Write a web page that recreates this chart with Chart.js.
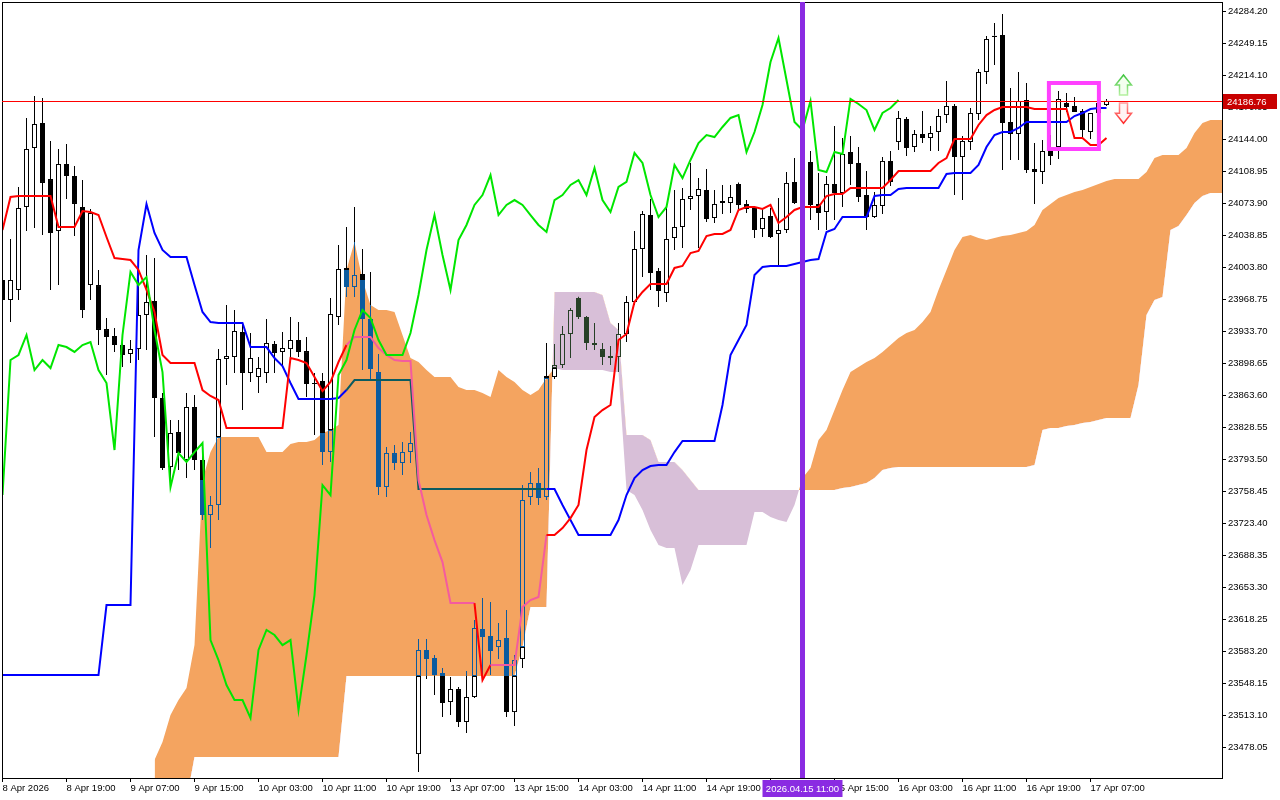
<!DOCTYPE html>
<html>
<head>
<meta charset="utf-8">
<script src="https://cdn.jsdelivr.net/npm/chart.js@4.4.1/dist/chart.umd.min.js"></script>
<style>
  html, body { margin: 0; background: #fff; }
  canvas { display: block; }
</style>
</head>
<body>
<canvas id="ichimoku" width="1280" height="800"></canvas>
<script>
"use strict";

// hourly bars, one label every 8 bars
var xLabels = ["8 Apr 2026", "8 Apr 19:00", "9 Apr 07:00", "9 Apr 15:00", "10 Apr 03:00", "10 Apr 11:00",
  "10 Apr 19:00", "13 Apr 07:00", "13 Apr 15:00", "14 Apr 03:00", "14 Apr 11:00", "14 Apr 19:00",
  "15 Apr 07:00", "15 Apr 15:00", "16 Apr 03:00", "16 Apr 11:00", "16 Apr 19:00", "17 Apr 07:00"];
var LABEL_STEP = 8;

var yTicks = [24284.20, 24249.15, 24214.10, 24179.05, 24144.00, 24108.95, 24073.90, 24038.85,
  24003.80, 23968.75, 23933.70, 23898.65, 23863.60, 23828.55, 23793.50, 23758.45, 23723.40,
  23688.35, 23653.30, 23618.25, 23583.20, 23548.15, 23513.10, 23478.05];

var open = [
  23990.3, 23968.4, 23979.4, 24070.3, 24134.9, 24162.3, 24100.9, 24044.0, 24117.4, 24104.2,
  24070.3, 23984.8, 23984.8, 23936.6, 23929.0, 23919.1, 23909.3, 23914.7, 23952.0, 23967.3,
  23861.1, 23785.5, 23823.8, 23793.2, 23851.2, 23793.2, 23732.9, 23743.9, 23903.8, 23906.0,
  23933.4, 23888.5, 23884.1, 23888.5, 23920.2, 23911.5, 23914.7, 23924.6, 23912.5, 23876.4,
  23879.7, 23801.9, 23949.8, 24003.5, 23982.6, 23996.9, 23947.6, 23889.5, 23763.6, 23800.8,
  23789.9, 23801.9, 23471.1, 23585.1, 23576.3, 23559.9, 23528.1, 23542.3, 23506.2, 23533.6,
  23608.1, 23600.4, 23588.3, 23598.2, 23517.1, 23575.2, 23752.6, 23768.0, 23752.6, 23884.1,
  23897.2, 23931.2, 23970.6, 23949.8, 23921.3, 23914.7, 23907.1, 23906.0, 23931.2, 23966.2,
  24024.3, 24061.5, 24000.2, 23976.1, 24036.3, 24048.4, 24079.0, 24082.3, 24088.9, 24058.2,
  24076.8, 24074.7, 24095.5, 24073.6, 24069.2, 24046.2, 24060.4, 24040.7, 24045.1, 24097.7,
  24074.7, 24119.6, 24073.6, 24064.8, 24095.5, 24085.6, 24130.5, 24118.5, 24083.4, 24059.3,
  24071.4, 24120.7, 24141.5, 24166.7, 24136.0, 24150.2, 24145.8, 24152.4, 24171.0, 24180.9,
  24125.0, 24141.5, 24172.1, 24218.1, 24257.6, 24258.7, 24163.4, 24150.2, 24187.5, 24111.9,
  24108.6, 24131.6, 24136.0, 24184.2, 24180.9, 24175.4, 24152.4, 24173.2, 24182.0];
var high = [
  24010.0, 24035.2, 24092.2, 24167.8, 24191.9, 24189.7, 24142.6, 24133.8, 24139.3, 24115.2,
  24099.8, 24068.1, 24001.3, 23948.7, 23937.7, 23930.1, 23924.6, 24006.7, 24017.7, 24014.4,
  23866.5, 23837.0, 23837.0, 23866.5, 23864.4, 23798.6, 23753.7, 23914.7, 23962.9, 23957.5,
  23943.2, 23932.3, 23906.0, 23947.6, 23923.5, 23933.4, 23949.8, 23944.3, 23927.9, 23888.5,
  23888.5, 23970.6, 24028.7, 24048.4, 24070.3, 24024.3, 23999.1, 23909.3, 23807.4, 23809.6,
  23812.9, 23823.8, 23597.1, 23597.1, 23579.6, 23565.3, 23555.5, 23544.5, 23562.1, 23617.9,
  23642.0, 23637.6, 23614.6, 23628.9, 23579.6, 23765.8, 23780.0, 23784.4, 23921.3, 23920.2,
  23939.9, 23959.6, 23972.0, 23950.9, 23943.2, 23921.3, 23918.0, 23943.2, 23972.8, 24044.0,
  24065.9, 24079.0, 24003.5, 24070.3, 24088.9, 24091.1, 24118.5, 24102.0, 24111.9, 24088.9,
  24094.4, 24094.4, 24097.0, 24077.9, 24071.4, 24069.2, 24069.2, 24080.1, 24108.6, 24123.9,
  24132.7, 24131.6, 24107.5, 24104.2, 24159.0, 24145.8, 24148.0, 24136.0, 24109.7, 24086.7,
  24125.0, 24131.6, 24175.4, 24168.8, 24154.6, 24175.4, 24159.0, 24177.6, 24208.3, 24183.1,
  24148.0, 24178.7, 24221.4, 24257.6, 24271.8, 24281.7, 24200.6, 24218.1, 24206.1, 24140.4,
  24143.7, 24149.1, 24197.3, 24195.1, 24190.8, 24177.6, 24173.2, 24187.5, 24188.6];
var low = [
  23948.7, 23944.3, 23968.4, 24044.0, 24047.3, 24039.6, 23979.4, 23984.8, 24079.0, 24038.5,
  23948.7, 23968.4, 23919.1, 23886.3, 23911.5, 23895.0, 23899.4, 23902.7, 23913.6, 23818.4,
  23782.2, 23763.6, 23782.2, 23773.4, 23782.2, 23727.4, 23696.8, 23727.4, 23875.3, 23888.5,
  23847.9, 23878.6, 23866.5, 23877.5, 23888.5, 23895.0, 23904.9, 23906.0, 23862.2, 23820.5,
  23787.7, 23791.0, 23941.0, 23971.7, 23971.7, 23891.7, 23880.8, 23754.8, 23752.6, 23782.2,
  23776.7, 23789.9, 23451.4, 23553.3, 23535.8, 23511.7, 23513.9, 23500.7, 23494.1, 23532.5,
  23557.7, 23557.7, 23575.2, 23511.7, 23501.8, 23565.3, 23743.9, 23743.9, 23749.3, 23881.9,
  23893.9, 23904.9, 23947.6, 23913.6, 23913.6, 23897.2, 23897.2, 23889.5, 23922.4, 23962.9,
  23993.6, 23979.4, 23960.7, 23966.2, 24023.2, 24025.4, 24067.0, 24025.4, 24053.8, 24052.7,
  24062.6, 24063.7, 24068.1, 24063.7, 24036.3, 24037.4, 24036.3, 24006.7, 24041.8, 24073.6,
  24067.0, 24056.0, 24045.1, 24045.1, 24056.0, 24070.3, 24094.4, 24075.7, 24045.1, 24058.2,
  24062.6, 24093.3, 24132.7, 24126.1, 24130.5, 24140.4, 24131.6, 24131.6, 24162.3, 24083.4,
  24077.9, 24132.7, 24165.6, 24205.0, 24225.8, 24110.8, 24121.8, 24121.8, 24107.5, 24073.6,
  24095.5, 24116.3, 24122.8, 24174.3, 24174.3, 24145.8, 24144.8, 24171.0, 24180.9];
var close = [
  23968.4, 23990.3, 24069.2, 24133.8, 24161.2, 24096.6, 24041.8, 24117.4, 24104.2, 24073.6,
  23957.5, 24063.7, 23935.6, 23927.9, 23919.1, 23908.2, 23914.7, 23952.0, 23966.2, 23861.1,
  23784.4, 23822.7, 23800.8, 23851.2, 23793.2, 23732.9, 23743.9, 23903.8, 23907.1, 23934.5,
  23888.5, 23904.9, 23893.9, 23921.3, 23910.4, 23915.8, 23924.6, 23911.5, 23876.4, 23877.5,
  23801.9, 23953.1, 24002.4, 23982.6, 23995.8, 23947.6, 23892.8, 23763.6, 23800.8, 23789.9,
  23801.9, 23811.8, 23585.1, 23575.2, 23557.7, 23527.0, 23542.3, 23506.2, 23533.6, 23609.2,
  23599.3, 23584.0, 23596.0, 23517.1, 23574.1, 23749.3, 23768.0, 23751.5, 23885.2, 23897.2,
  23931.2, 23957.5, 23949.8, 23921.3, 23919.1, 23906.0, 23904.9, 23931.2, 23966.2, 24024.3,
  24062.6, 23998.0, 23978.3, 24035.2, 24048.4, 24079.0, 24082.3, 24090.0, 24057.1, 24073.6,
  24074.7, 24081.2, 24072.5, 24068.1, 24045.1, 24058.2, 24037.4, 24045.1, 24096.6, 24074.7,
  24119.6, 24072.5, 24063.7, 24095.5, 24085.6, 24128.3, 24117.4, 24081.2, 24059.3, 24072.5,
  24120.7, 24097.7, 24167.8, 24134.9, 24150.2, 24145.8, 24151.3, 24169.9, 24180.9, 24125.0,
  24142.6, 24173.2, 24218.1, 24254.3, 24256.5, 24162.3, 24150.2, 24186.4, 24110.8, 24108.6,
  24131.6, 24126.1, 24188.6, 24179.8, 24174.3, 24154.6, 24173.2, 24184.2, 24186.76];

var tenkan = [
  24045.1, 24081.2, 24082.3, 24082.3, 24082.3, 24082.3, 24082.3, 24048.4, 24048.4, 24048.4,
  24065.9, 24064.8, 24061.5, 24037.4, 24014.4, 24013.3, 24012.2, 24001.3, 23979.4, 23955.3,
  23908.2, 23899.4, 23899.4, 23899.4, 23899.4, 23869.8, 23863.3, 23858.9, 23828.2, 23828.2,
  23828.2, 23828.2, 23828.2, 23828.2, 23828.2, 23828.2, 23904.9, 23902.7, 23899.4, 23884.1,
  23868.7, 23878.6, 23900.5, 23919.1, 23927.9, 23927.9, 23927.9, 23915.8, 23908.2, 23902.7,
  23901.6, 23901.6, 23771.3, 23732.9, 23705.5, 23681.4, 23636.5, 23636.5, 23636.5, 23636.5,
  23552.2, 23568.6, 23568.6, 23568.6, 23568.6, 23632.2, 23639.8, 23643.1, 23711.0, 23711.0,
  23718.7, 23729.6, 23743.9, 23804.1, 23840.3, 23847.9, 23853.4, 23924.6, 23931.2, 23966.2,
  23977.2, 23985.9, 23985.9, 23985.9, 24003.5, 24005.7, 24019.9, 24022.1, 24038.5, 24040.7,
  24040.7, 24045.1, 24067.0, 24070.3, 24070.3, 24068.1, 24072.5, 24052.7, 24059.3, 24067.0,
  24070.3, 24070.3, 24070.3, 24082.3, 24084.5, 24084.5, 24091.1, 24091.1, 24091.1, 24091.1,
  24091.1, 24099.8, 24109.7, 24109.7, 24109.7, 24109.7, 24109.7, 24118.5, 24123.9, 24144.8,
  24144.8, 24144.8, 24160.1, 24171.0, 24176.5, 24179.8, 24179.8, 24179.8, 24179.8, 24177.6,
  24177.6, 24177.6, 24177.6, 24177.6, 24145.8, 24145.8, 24138.2, 24138.2, 24145.8];
var kijun = [
  23557.7, 23557.7, 23557.7, 23557.7, 23557.7, 23557.7, 23557.7, 23557.7, 23557.7, 23557.7,
  23557.7, 23557.7, 23557.7, 23634.3, 23634.3, 23634.3, 23634.3, 24023.2, 24073.6, 24041.8,
  24023.2, 24015.5, 24015.5, 24015.5, 23984.8, 23955.3, 23944.3, 23943.2, 23943.2, 23943.2,
  23943.2, 23916.9, 23916.9, 23916.9, 23904.9, 23896.1, 23877.5, 23860.0, 23860.0, 23860.0,
  23860.0, 23860.0, 23861.1, 23869.8, 23880.8, 23880.8, 23880.8, 23880.8, 23880.8, 23880.8,
  23880.8, 23880.8, 23761.4, 23761.4, 23761.4, 23761.4, 23761.4, 23761.4, 23761.4, 23761.4,
  23761.4, 23761.4, 23761.4, 23761.4, 23761.4, 23761.4, 23761.4, 23761.4, 23761.4, 23761.4,
  23743.9, 23727.4, 23711.0, 23711.0, 23711.0, 23711.0, 23711.0, 23727.4, 23754.8, 23773.4,
  23782.2, 23786.6, 23787.7, 23787.7, 23801.9, 23814.0, 23814.0, 23814.0, 23814.0, 23814.0,
  23853.4, 23908.2, 23924.6, 23941.0, 23995.8, 24004.6, 24005.7, 24005.7, 24005.7, 24007.8,
  24010.0, 24012.2, 24013.3, 24042.9, 24046.2, 24059.3, 24059.3, 24059.3, 24059.3, 24082.3,
  24083.4, 24083.4, 24090.0, 24091.1, 24091.1, 24091.1, 24091.1, 24091.1, 24106.4, 24107.5,
  24107.5, 24107.5, 24116.3, 24136.0, 24149.1, 24152.4, 24152.4, 24156.8, 24163.4, 24163.4,
  24163.4, 24163.4, 24163.4, 24163.4, 24169.9, 24173.2, 24177.6, 24178.7, 24178.7];
// lagging span, plotted 26 bars back
var chikou = [
  23754.8, 23902.7, 23908.2, 23930.1, 23891.7, 23902.7, 23893.9, 23919.1, 23916.9, 23911.5,
  23919.1, 23922.4, 23891.7, 23877.5, 23804.1, 23930.1, 23999.1, 23984.8, 23993.6, 23935.6,
  23889.5, 23763.6, 23800.8, 23791.0, 23801.9, 23811.8, 23596.0, 23574.1, 23546.7, 23530.3,
  23530.3, 23510.6, 23585.1, 23607.0, 23601.5, 23590.5, 23596.0, 23519.3, 23579.6, 23645.3,
  23765.8, 23754.8, 23886.3, 23902.7, 23935.6, 23957.5, 23948.7, 23924.6, 23908.2, 23908.2,
  23908.2, 23932.3, 23973.9, 24023.2, 24061.5, 24017.7, 23979.4, 24034.1, 24050.6, 24072.5,
  24083.4, 24105.3, 24061.5, 24072.5, 24077.9, 24072.5, 24061.5, 24050.6, 24042.9, 24077.9,
  24083.4, 24094.4, 24099.8, 24083.4, 24113.0, 24077.9, 24064.8, 24092.2, 24097.7, 24129.4,
  24118.5, 24083.4, 24059.3, 24070.3, 24116.3, 24102.0, 24121.8, 24140.4, 24149.1, 24146.9,
  24157.9, 24167.8, 24171.0, 24130.5, 24152.4, 24182.0, 24229.1, 24255.4, 24209.4, 24163.4,
  24154.6, 24186.4, 24110.8, 24108.6, 24130.5, 24128.3, 24188.6, 24183.1, 24176.5, 24154.6,
  24173.2, 24178.7, 24187.5];

// cloud, first value sits on bar CLOUD_FROM
var CLOUD_FROM = 19;
var spanA = [
  23464.6, 23484.3, 23513.9, 23530.3, 23543.4, 23590.5, 23771.3, 23801.9, 23818.4, 23818.4,
  23818.4, 23818.4, 23818.4, 23818.4, 23801.9, 23801.9, 23801.9, 23810.7, 23812.9, 23812.9,
  23815.1, 23822.7, 23826.0, 23831.5, 24001.3, 24031.9, 23990.3, 23962.9, 23957.5, 23957.5,
  23955.3, 23930.1, 23904.9, 23900.5, 23891.7, 23884.1, 23884.1, 23884.1, 23873.1, 23869.8,
  23869.8, 23866.5, 23862.2, 23891.7, 23884.1, 23878.6, 23869.8, 23864.4, 23869.8, 23883.0,
  23893.9, 23891.7, 23891.7, 23891.7, 23891.7, 23891.7, 23891.7, 23889.5, 23889.5, 23760.3,
  23754.8, 23738.4, 23716.5, 23700.1, 23696.8, 23696.8, 23656.2, 23672.7, 23700.1, 23700.1,
  23700.1, 23700.1, 23700.1, 23700.1, 23700.1, 23736.2, 23736.2, 23730.7, 23727.4, 23725.3,
  23743.9, 23773.4, 23784.4, 23815.1, 23826.0, 23847.9, 23869.8, 23889.5, 23895.0, 23900.5,
  23904.9, 23911.5, 23919.1, 23926.8, 23932.3, 23935.6, 23944.3, 23955.3, 23979.4, 24001.3,
  24023.2, 24037.4, 24039.6, 24036.3, 24034.1, 24036.3, 24038.5, 24039.6, 24041.8, 24044.0,
  24050.6, 24067.0, 24073.6, 24080.1, 24083.4, 24086.7, 24088.9, 24092.2, 24095.5, 24098.8,
  24100.9, 24100.9, 24100.9, 24100.9, 24108.6, 24123.9, 24127.2, 24127.2, 24127.2, 24134.9,
  24151.3, 24162.3, 24165.6, 24165.6, 24165.6];
var spanB = [
  23420.8, 23420.8, 23420.8, 23420.8, 23420.8, 23467.9, 23467.9, 23467.9, 23467.9, 23467.9,
  23467.9, 23467.9, 23467.9, 23467.9, 23467.9, 23467.9, 23467.9, 23467.9, 23467.9, 23467.9,
  23467.9, 23467.9, 23467.9, 23467.9, 23556.6, 23556.6, 23556.6, 23556.6, 23556.6, 23556.6,
  23556.6, 23556.6, 23556.6, 23556.6, 23556.6, 23556.6, 23556.6, 23556.6, 23556.6, 23556.6,
  23556.6, 23556.6, 23556.6, 23556.6, 23556.6, 23556.6, 23588.3, 23632.2, 23632.2, 23632.2,
  23977.2, 23977.2, 23977.2, 23977.2, 23977.2, 23977.2, 23973.9, 23943.2, 23935.6, 23820.5,
  23820.5, 23820.5, 23815.1, 23791.0, 23791.0, 23791.0, 23782.2, 23771.3, 23760.3, 23760.3,
  23760.3, 23760.3, 23760.3, 23760.3, 23760.3, 23760.3, 23760.3, 23760.3, 23760.3, 23760.3,
  23760.3, 23760.3, 23760.3, 23760.3, 23760.3, 23760.3, 23762.5, 23763.6, 23765.8, 23768.0,
  23773.4, 23782.2, 23784.4, 23785.5, 23785.5, 23785.5, 23785.5, 23785.5, 23785.5, 23785.5,
  23785.5, 23785.5, 23785.5, 23785.5, 23785.5, 23785.5, 23785.5, 23785.5, 23785.5, 23785.5,
  23787.7, 23826.0, 23828.2, 23828.2, 23830.4, 23831.5, 23833.7, 23834.8, 23837.0, 23839.2,
  23839.2, 23839.2, 23839.2, 23875.3, 23952.0, 23968.4, 23971.7, 24045.1, 24049.5, 24061.5,
  24074.7, 24082.3, 24085.6, 24085.6, 24085.6];

var lastPrice = 24186.76;
var markerBar = 100;
var markerLabel = "2026.04.15 11:00";

var SAND = "#f4a460", THISTLE = "#d8bfd8";
var INK_ON_SAND = "#0b5b9f", INK_ON_THISTLE = "#274027";
var TENKAN_ON_SAND = "#f45b9f", KIJUN_ON_SAND = "#0b5b60";

function cloudAt(i) {
  var k = i - CLOUD_FROM;
  if (k < 0 || k >= spanA.length) return null;
  var a = spanA[k], b = spanB[k];
  return { lo: Math.min(a, b), hi: Math.max(a, b), sand: a >= b, ink: a >= b ? INK_ON_SAND : INK_ON_THISTLE };
}

// cut a vertical range into the parts outside / inside the cloud
function split(lo, hi, cl) {
  if (hi - lo <= 0) return [];
  if (!cl) return [{ lo: lo, hi: hi, inside: false }];
  var parts = [];
  if (lo < cl.lo) parts.push({ lo: lo, hi: Math.min(hi, cl.lo), inside: false });
  if (hi > cl.lo && lo < cl.hi) parts.push({ lo: Math.max(lo, cl.lo), hi: Math.min(hi, cl.hi), inside: true });
  if (hi > cl.hi) parts.push({ lo: Math.max(lo, cl.hi), hi: hi, inside: false });
  return parts.filter(function (p) { return p.hi > p.lo; });
}

var wicks = [], bodies = [];
close.forEach(function (c, i) {
  var o = open[i], up = c >= o;
  var bot = Math.min(o, c), top = Math.max(o, c);
  if (top - bot < 1.2) top = bot + 1.2;
  var thin = top - bot < 2.5;
  var cl = cloudAt(i);
  split(top, high[i], cl).concat(split(low[i], bot, cl)).forEach(function (p) {
    wicks.push({ x: i, y: [p.lo, p.hi], ink: p.inside ? cl.ink : "#000" });
  });
  split(bot, top, cl).forEach(function (p) {
    var ink = p.inside ? cl.ink : "#000";
    var paint = (up && !thin) ? (p.inside ? "rgba(0,0,0,0)" : "#fff") : ink;
    bodies.push({ x: i, y: [p.lo, p.hi], ink: ink, paint: paint });
  });
});

function inSand(series, i) {
  var cl = cloudAt(i);
  return !!cl && cl.sand && series[i] >= cl.lo && series[i] <= cl.hi;
}
function points(series, from) {
  return series.map(function (v, k) { return { x: k + (from || 0), y: v }; });
}

function arrow(ctx, cx, yTip, yTail, edge, inner) {
  var d = yTail > yTip ? 1 : -1;
  ctx.beginPath();
  ctx.moveTo(cx, yTip);
  ctx.lineTo(cx + 8, yTip + 10 * d);
  ctx.lineTo(cx + 4, yTip + 10 * d);
  ctx.lineTo(cx + 4, yTail);
  ctx.lineTo(cx - 4, yTail);
  ctx.lineTo(cx - 4, yTip + 10 * d);
  ctx.lineTo(cx - 8, yTip + 10 * d);
  ctx.closePath();
  var g = ctx.createLinearGradient(0, yTip, 0, yTail);
  g.addColorStop(0, edge[0]);
  g.addColorStop(1, edge[1]);
  ctx.fillStyle = inner;
  ctx.fill();
  ctx.lineWidth = 1.5;
  ctx.strokeStyle = g;
  ctx.stroke();
}

var overlay = {
  id: "overlay",
  afterDraw: function (chart) {
    var ctx = chart.ctx, area = chart.chartArea, x = chart.scales.x, y = chart.scales.y;
    ctx.save();

    ctx.strokeStyle = "#000";
    ctx.lineWidth = 1;
    ctx.strokeRect(area.left + 0.5, area.top + 0.5, area.right - area.left, area.bottom - area.top);

    var py = Math.round(y.getPixelForValue(lastPrice)) + 0.5;
    ctx.strokeStyle = "#ff0000";
    ctx.lineWidth = 1;
    ctx.beginPath();
    ctx.moveTo(area.left, py);
    ctx.lineTo(area.right, py);
    ctx.stroke();

    var mx = x.getPixelForValue(markerBar);
    ctx.fillStyle = "#8a2be2";
    ctx.fillRect(mx - 2.5, area.top, 5, area.bottom - area.top);

    // highlight box round the last bars
    var bx0 = x.getPixelForValue(130.8), bx1 = x.getPixelForValue(137.05);
    var by0 = y.getPixelForValue(24206.1), by1 = y.getPixelForValue(24133.8);
    ctx.strokeStyle = "#ff40ff";
    ctx.lineWidth = 4;
    ctx.strokeRect(bx0, by0, bx1 - bx0, by1 - by0);

    var ax = Math.round(x.getPixelForValue(140)) + 0.5;
    arrow(ctx, ax, y.getPixelForValue(24214.8), y.getPixelForValue(24193.0), ["#3fc43f", "#b5f0a0"], "#f4fff0");
    arrow(ctx, ax, y.getPixelForValue(24162.0), y.getPixelForValue(24184.2), ["#ff2a2a", "#ff9c9c"], "#fff4f4");

    ctx.font = "9.5px 'Liberation Sans', Arial, sans-serif";
    ctx.textBaseline = "middle";
    ctx.fillStyle = "#c80000";
    ctx.fillRect(area.right + 1, py - 7.5, 54, 15);
    ctx.fillStyle = "#fff";
    ctx.textAlign = "left";
    ctx.fillText(lastPrice.toFixed(2), area.right + 5, py + 0.5);

    ctx.fillStyle = "#8a2be2";
    ctx.fillRect(mx - 40, area.bottom + 2, 80, 17);
    ctx.fillStyle = "#fff";
    ctx.textAlign = "center";
    ctx.fillText(markerLabel, mx, area.bottom + 11);
    ctx.restore();
  }
};

Chart.defaults.font.family = "'Liberation Sans', Arial, sans-serif";
var axisFont = { family: "'Liberation Sans', Arial, sans-serif", size: 9.5 };

new Chart(document.getElementById("ichimoku"), {
  type: "bar",
  data: {
    datasets: [{
      type: "line", label: "Senkou Span A", data: points(spanA, CLOUD_FROM),
      borderWidth: 0, borderColor: "rgba(0,0,0,0)", pointRadius: 0,
      fill: { target: "+1", above: SAND, below: THISTLE }, order: 10
    }, {
      type: "line", label: "Senkou Span B", data: points(spanB, CLOUD_FROM),
      borderWidth: 0, borderColor: "rgba(0,0,0,0)", pointRadius: 0, fill: false, order: 11
    }, {
      label: "wicks", data: wicks, barThickness: 1, grouped: false, inflateAmount: 0,
      backgroundColor: function (c) { return c.raw ? c.raw.ink : "#000"; }, borderWidth: 0, order: 6
    }, {
      label: "bodies", data: bodies, barThickness: 5, grouped: false, inflateAmount: 0,
      backgroundColor: function (c) { return c.raw ? c.raw.paint : "#000"; },
      borderColor: function (c) { return c.raw ? c.raw.ink : "#000"; },
      borderWidth: 1, borderSkipped: false, order: 5
    }, {
      type: "line", label: "Kijun-sen", data: points(kijun), borderColor: "#0000ff", borderWidth: 2,
      pointRadius: 0, tension: 0, order: 3,
      segment: { borderColor: function (s) { return inSand(kijun, s.p0DataIndex) && inSand(kijun, s.p1DataIndex) ? KIJUN_ON_SAND : undefined; } }
    }, {
      type: "line", label: "Tenkan-sen", data: points(tenkan), borderColor: "#ff0000", borderWidth: 2,
      pointRadius: 0, tension: 0, order: 2,
      segment: { borderColor: function (s) { return inSand(tenkan, s.p0DataIndex) && inSand(tenkan, s.p1DataIndex) ? TENKAN_ON_SAND : undefined; } }
    }, {
      type: "line", label: "Chikou Span", data: points(chikou), borderColor: "#00e600", borderWidth: 2,
      pointRadius: 0, tension: 0, order: 1
    }]
  },
  options: {
    responsive: false,
    devicePixelRatio: 1,
    animation: false,
    events: [],
    layout: { padding: { left: 2, top: 2, right: 0, bottom: 0 } },
    plugins: { legend: { display: false }, tooltip: { enabled: false } },
    scales: {
      x: {
        type: "linear", min: -0.0625, max: 152.4375, offset: false,
        afterBuildTicks: function (s) { s.ticks = xLabels.map(function (_, k) { return { value: k * LABEL_STEP }; }); },
        afterFit: function (s) { s.height = 22; s.paddingLeft = 0; s.paddingRight = 0; },
        ticks: {
          align: "start", maxRotation: 0, autoSkip: false, color: "#000", font: axisFont, padding: 1,
          callback: function (v) { return xLabels[Math.round(v / LABEL_STEP)]; }
        },
        grid: { drawOnChartArea: false, offset: false, tickLength: 4, color: "#000" },
        border: { color: "#000" }
      },
      y: {
        position: "right", min: 23444.9, max: 24294.8,
        afterBuildTicks: function (s) { s.ticks = yTicks.map(function (v) { return { value: v }; }); },
        afterFit: function (s) { s.width = 58; s.paddingTop = 0; s.paddingBottom = 0; },
        ticks: {
          autoSkip: false, color: "#000", font: axisFont, padding: 2,
          callback: function (v) { return v.toFixed(2); }
        },
        grid: { drawOnChartArea: false, tickLength: 4, color: "#000" },
        border: { color: "#000" }
      }
    }
  },
  plugins: [overlay]
});
</script>
</body>
</html>
